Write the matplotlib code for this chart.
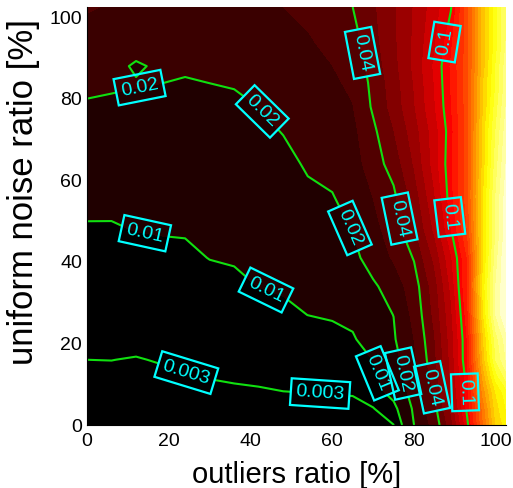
import numpy as np
import matplotlib.pyplot as plt
from matplotlib.colors import Normalize

plt.rcParams['font.family'] = ['Liberation Sans', 'DejaVu Sans']

# grid nodes
outliers = [0, 6, 12, 18, 24, 30, 36, 42, 48, 54, 60, 65, 70, 75, 80, 85, 89, 93, 97, 100, 102.5]
noise = [0, 4, 8, 12, 16, 21, 27, 34, 41, 48, 56, 64, 72, 78, 84, 88, 94, 102.5]

# estimated error, one row per noise value (bottom to top)
err = [
    [0.00169, 0.0017, 0.00154, 0.00166, 0.00183, 0.00187, 0.0019, 0.00185, 0.00188, 0.00181, 0.00172, 0.00166, 0.002, 0.0029, 0.02, 0.0333, 0.0548, 0.097, 0.15, 0.19, 0.205],
    [0.00195, 0.00197, 0.0018, 0.00194, 0.00213, 0.00221, 0.00227, 0.00227, 0.00235, 0.00234, 0.0023, 0.00231, 0.0027, 0.0075, 0.0215, 0.0368, 0.0616, 0.103, 0.155, 0.195, 0.21],
    [0.00225, 0.00227, 0.00211, 0.00227, 0.00248, 0.00261, 0.00271, 0.00278, 0.00295, 0.00302, 0.00309, 0.0032, 0.00652, 0.0129, 0.0236, 0.041, 0.0673, 0.105, 0.165, 0.2, 0.215],
    [0.0026, 0.00262, 0.00248, 0.00266, 0.00289, 0.00309, 0.00324, 0.00341, 0.0037, 0.0039, 0.00414, 0.00445, 0.00838, 0.0147, 0.0254, 0.0449, 0.0709, 0.105, 0.175, 0.215, 0.235],
    [0.003, 0.00302, 0.0029, 0.00312, 0.00336, 0.00365, 0.00387, 0.00417, 0.00463, 0.00502, 0.00556, 0.00617, 0.0102, 0.0165, 0.0277, 0.0474, 0.0726, 0.11, 0.185, 0.23, 0.25],
    [0.00359, 0.00361, 0.00355, 0.0038, 0.00407, 0.0045, 0.00483, 0.00538, 0.00613, 0.0069, 0.00803, 0.0093, 0.0132, 0.0189, 0.03, 0.0492, 0.0742, 0.11, 0.19, 0.235, 0.255],
    [0.00445, 0.00448, 0.0045, 0.00482, 0.00511, 0.0058, 0.00632, 0.0073, 0.00859, 0.01004, 0.01065, 0.01157, 0.0171, 0.0201, 0.0325, 0.0524, 0.077, 0.115, 0.2, 0.25, 0.27],
    [0.00573, 0.00575, 0.006, 0.00636, 0.00668, 0.00778, 0.00863, 0.0101, 0.01075, 0.0116, 0.01235, 0.0141, 0.0185, 0.0245, 0.0352, 0.055, 0.082, 0.12, 0.205, 0.25, 0.27],
    [0.00737, 0.00738, 0.0079, 0.0084, 0.00872, 0.01016, 0.01059, 0.0113, 0.0121, 0.0135, 0.0143, 0.01725, 0.0245, 0.031, 0.0407, 0.0624, 0.088, 0.12, 0.2, 0.245, 0.27],
    [0.00948, 0.00948, 0.0102, 0.01048, 0.0106, 0.01135, 0.0118, 0.0126, 0.0136, 0.0156, 0.0166, 0.0204, 0.0269, 0.0349, 0.0484, 0.072, 0.0993, 0.13, 0.2, 0.24, 0.265],
    [0.0116, 0.01155, 0.0119, 0.0121, 0.0121, 0.0129, 0.01335, 0.0142, 0.0156, 0.0185, 0.0197, 0.0226, 0.0302, 0.038, 0.054, 0.079, 0.1057, 0.135, 0.2, 0.24, 0.265],
    [0.01395, 0.0138, 0.01396, 0.014, 0.0139, 0.0146, 0.0151, 0.0161, 0.0178, 0.0209, 0.0219, 0.0249, 0.0357, 0.0438, 0.0608, 0.0843, 0.108, 0.135, 0.195, 0.235, 0.26],
    [0.01676, 0.01645, 0.01634, 0.0162, 0.0159, 0.0166, 0.0171, 0.0182, 0.0203, 0.0229, 0.0243, 0.0275, 0.0379, 0.0496, 0.065, 0.0851, 0.106, 0.135, 0.195, 0.23, 0.255],
    [0.01924, 0.0188, 0.0184, 0.0181, 0.0176, 0.0182, 0.0187, 0.02003, 0.0219, 0.0244, 0.0263, 0.0296, 0.0415, 0.0535, 0.069, 0.089, 0.109, 0.135, 0.19, 0.225, 0.25],
    [0.0215, 0.021, 0.0205, 0.0201, 0.0196, 0.02006, 0.0205, 0.0217, 0.0236, 0.0261, 0.0284, 0.0319, 0.0427, 0.0548, 0.0705, 0.0904, 0.1105, 0.135, 0.19, 0.22, 0.245],
    [0.023, 0.0224, 0.019, 0.0213, 0.0208, 0.0212, 0.0218, 0.023, 0.0249, 0.0273, 0.0299, 0.0335, 0.0443, 0.0564, 0.072, 0.0916, 0.111, 0.135, 0.185, 0.22, 0.245],
    [0.0255, 0.0245, 0.0238, 0.0231, 0.0228, 0.0231, 0.0238, 0.0249, 0.0269, 0.0291, 0.0323, 0.036, 0.0465, 0.0577, 0.0715, 0.0886, 0.107, 0.135, 0.185, 0.215, 0.24],
    [0.031, 0.029, 0.027, 0.026, 0.026, 0.026, 0.027, 0.028, 0.03, 0.032, 0.036, 0.04, 0.0483, 0.0584, 0.0706, 0.085, 0.099, 0.135, 0.185, 0.215, 0.24],
]

line_levels = [0.003, 0.01, 0.02, 0.04, 0.1]
ticks = [0, 20, 40, 60, 80, 100]

# where the labels sit on the lines
label_pos = [
    (13, 82), (43, 77), (64.3, 48.3), (77.7, 12.7),
    (14.2, 47.3), (43.5, 32.3), (71.1, 12.7),
    (24.2, 12.5), (57, 7.4),
    (67.2, 91.2), (77, 50.7), (84.6, 9.3),
    (87.5, 93.9), (88.8, 51), (91.2, 8),
]

X, Y = np.meshgrid(outliers, noise)
Z = np.array(err)

fig = plt.figure(figsize=(5.13, 4.88), dpi=100)
ax = fig.add_axes([87/513, 63/488, 419/513, 418/488])

cmap = plt.cm.hot.copy()
cmap.set_under('black')
norm = Normalize(vmin=0.0055, vmax=0.28)
ax.contourf(X, Y, Z, levels=np.arange(0, 0.301, 0.01), cmap=cmap, norm=norm)

cs = ax.contour(X, Y, Z, levels=line_levels, colors='#10e010', linewidths=1.5)
lbls = ax.clabel(cs, line_levels, inline=True, fmt=lambda v: f'{v:g}',
                 fontsize=14, colors='cyan', manual=label_pos)
for t in lbls:
    t.set_bbox(dict(boxstyle='square,pad=0.25', fc='none', ec='cyan', lw=1.6))

ax.set_xlim(0, 102.5)
ax.set_ylim(0, 102.5)
ax.set_xticks(ticks)
ax.set_yticks(ticks)
ax.tick_params(length=0, labelsize=14)
ax.tick_params(axis='x', pad=5.5)
ax.tick_params(axis='y', pad=3.5)
ax.spines['top'].set_visible(False)
ax.spines['right'].set_visible(False)

ax.set_xlabel('outliers ratio [%]', fontsize=21)
ax.set_ylabel('uniform noise ratio [%]', fontsize=25)
ax.xaxis.set_label_coords(0.5, -0.085)
ax.yaxis.set_label_coords(-0.112, 0.557)

fig.savefig('out.png', dpi=100)
